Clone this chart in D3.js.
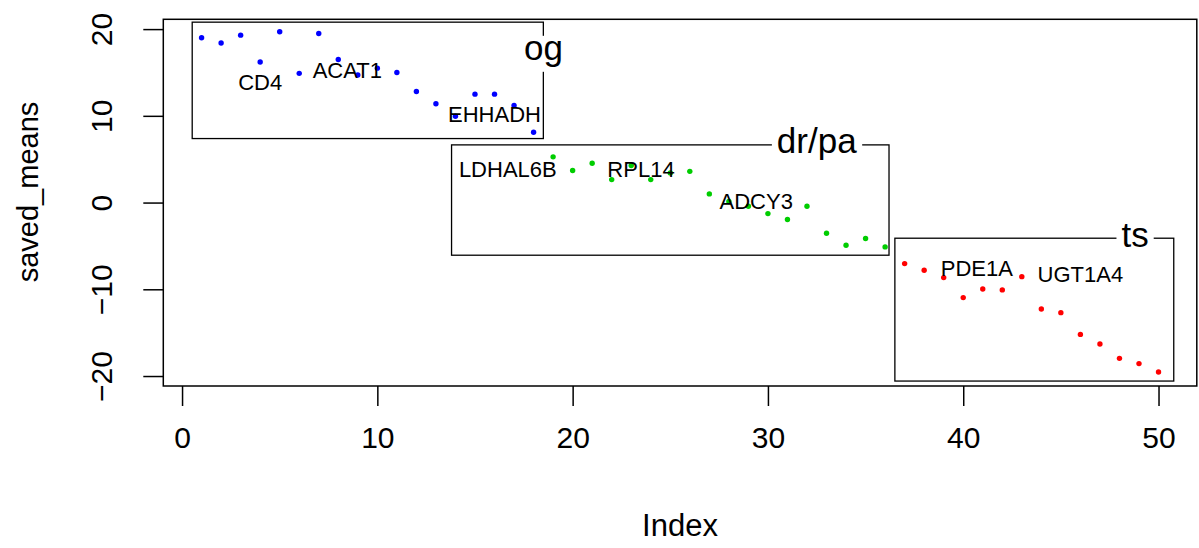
<!DOCTYPE html>
<html><head><meta charset="utf-8">
<script src="https://cdn.jsdelivr.net/npm/d3@7"></script>
<style>body{margin:0;background:#fff}svg{display:block;font-family:"Liberation Sans",Arial,sans-serif}</style>
</head><body>
<svg id="c" width="1199" height="548"></svg>
<script>
// ---- data ----
const ogValues = [19.0,18.4,19.3,16.2,19.7,14.9,19.5,16.5,14.7,15.5,15.0,12.8,11.4,9.95,12.5,12.5,11.2,8.1];
const drpaValues = [5.27,3.69,4.53,2.65,4.27,2.65,3.42,3.6,1.0,0.12,-0.42,-1.27,-1.96,-0.42,-3.54,-4.92,-4.15,-5.11];
const tsValues = [-7.04,-7.8,-8.65,-10.96,-9.96,-10.07,-8.54,-12.27,-12.69,-15.2,-16.3,-17.96,-18.57,-19.53];
const groupNames = ["og","dr/pa","ts"];
const groupColors = ["#0000FF","#00CD00","#FF0000"];
const xTicks = [0,10,20,30,40,50];
const yTicks = [-20,-10,0,10,20];
const geneNames = ["CD4","ACAT1","EHHADH","LDHAL6B","RPL14","ADCY3","PDE1A","UGT1A4"];
const geneX = [4.0,8.46,16.0,16.68,23.5,29.4,40.7,46.0];
const geneY = [13.8,15.2,10.1,3.77,3.77,0.11,-7.57,-8.35];
// group boxes in data units, and title anchor (baseline)
const boxX0 = [0.52,13.8,36.5];
const boxX1 = [18.5,36.2,50.78];
const boxYTop = [20.8,6.65,-4.11];
const boxYBot = [7.38,-6.07,-20.58];
const titleX = [18.51,32.5,48.8];
const titleY = [16.46,5.69,-5.15];

// ---- build ----
const svg = d3.select("#c");
const x = d3.scaleLinear().domain([-0.96,51.96]).range([163.3,1196.8]);
const y = d3.scaleLinear().domain([-21.15,21.13]).range([386,19.3]);

const values = [ogValues,drpaValues,tsValues];
const pts = [];
let idx = 1;
values.forEach((arr,g)=>arr.forEach(v=>{pts.push({i:idx++,v,g});}));

const boxes = groupNames.map((n,g)=>({n,g}));
svg.append("g").selectAll("rect").data(boxes).join("rect")
  .attr("x",d=>x(boxX0[d.g])).attr("y",d=>y(boxYTop[d.g]))
  .attr("width",d=>x(boxX1[d.g])-x(boxX0[d.g]))
  .attr("height",d=>y(boxYBot[d.g])-y(boxYTop[d.g]))
  .attr("fill","none").attr("stroke","#000").attr("stroke-width",1.3);

svg.append("g").selectAll("circle").data(pts).join("circle")
  .attr("cx",d=>x(d.i)).attr("cy",d=>y(d.v)).attr("r",2.7)
  .attr("fill",d=>groupColors[d.g]);

svg.append("g").selectAll("text").data(geneNames).join("text")
  .attr("x",(d,i)=>x(geneX[i])).attr("y",(d,i)=>y(geneY[i]))
  .attr("text-anchor","middle").attr("dominant-baseline","central")
  .attr("font-size",22).attr("fill","#000").text(d=>d);

const tg = svg.append("g").selectAll("g").data(boxes).join("g")
  .attr("transform",d=>`translate(${x(titleX[d.g])},${y(titleY[d.g])})`);
tg.append("text").attr("text-anchor","middle")
  .attr("font-size",35).attr("fill","#000").text(d=>d.n)
  .each(function(){
    const b=this.getBBox();
    d3.select(this.parentNode).insert("rect","text")
      .attr("x",b.x-5).attr("y",-24).attr("width",b.width+10).attr("height",36)
      .attr("fill","#fff");
  });

svg.append("rect").attr("x",163.3).attr("y",19.3).attr("width",1196.8-163.3).attr("height",386-19.3)
  .attr("fill","none").attr("stroke","#000").attr("stroke-width",1.5);

const xa = svg.append("g").attr("transform","translate(0,386)")
  .call(d3.axisBottom(x).tickValues(xTicks).tickSize(20).tickFormat(d3.format("d")));
const ya = svg.append("g").attr("transform","translate(163.3,0)")
  .call(d3.axisLeft(y).tickValues(yTicks).tickSize(20).tickFormat(d=>d<0?"\u2212"+(-d):d));
[xa,ya].forEach(a=>{a.select(".domain").remove();a.selectAll("line").attr("stroke","#000").attr("stroke-width",1.5);
  a.selectAll("text").attr("font-size",30).attr("fill","#000").attr("font-family","Liberation Sans, Arial, sans-serif");});
xa.selectAll(".tick text").attr("dy",null).attr("y",51).attr("dominant-baseline","central");
ya.selectAll(".tick text").attr("x",null).attr("dy",null)
  .attr("transform","translate(-62,0) rotate(-90)").attr("text-anchor","middle").attr("dominant-baseline","central");

svg.append("text").attr("x",680).attr("y",525).attr("text-anchor","middle").attr("dominant-baseline","central")
  .attr("font-size",31).text("Index");
svg.append("text").attr("transform","translate(28,192) rotate(-90)").attr("text-anchor","middle")
  .attr("dominant-baseline","central").attr("font-size",29).text("saved_means");
</script>
</body></html>
